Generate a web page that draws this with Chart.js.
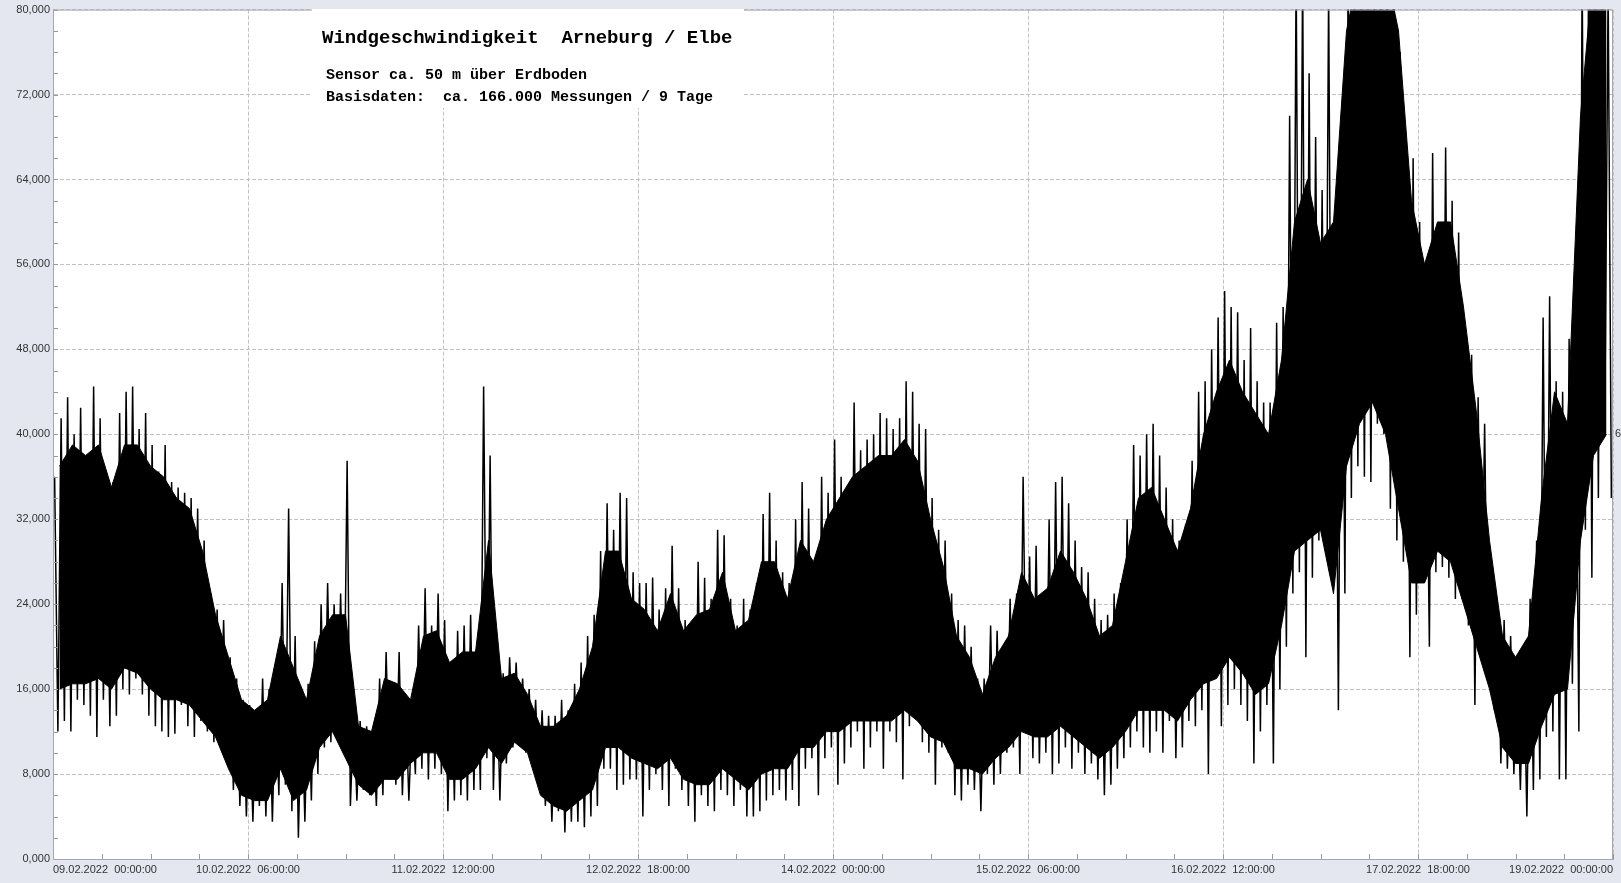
<!DOCTYPE html>
<html>
<head>
<meta charset="utf-8">
<title>Windgeschwindigkeit Arneburg / Elbe</title>
<script src="https://cdn.jsdelivr.net/npm/chart.js@4.4.1/dist/chart.umd.min.js"></script>
<style>
  html, body { margin: 0; padding: 0; background: #e4e7f0; }
  #wrap { width: 1621px; height: 883px; }
</style>
</head>
<body>
<div id="wrap"><canvas id="windchart" width="1621" height="883"></canvas></div>
<script>
// hourly extremes (09.02.2022 00:00 .. 19.02.2022 00:00)
const windHigh = [
  36000, 41500, 43500, 40000, 42500, 38000, 44500, 41500, 33000, 35500,
  42000, 44000, 44500, 40500, 42000, 39000, 36500, 39000, 35500, 35000,
  34500, 34000, 33000, 30000, 25000, 23500, 22500, 19000, 17000, 15000,
  14500, 14000, 17000, 16000, 15500, 26000, 33000, 21000, 15000, 16500,
  20500, 24000, 26000, 24000, 25000, 37500, 13500, 13000, 12500, 12000,
  17000, 19500, 15500, 19500, 15000, 14000, 22000, 25500, 22000, 25000,
  22500, 18500, 21500, 22000, 23000, 20000, 44500, 38000, 18500, 17500,
  19000, 18500, 17000, 16000, 15000, 14000, 13500, 13500, 15000, 14000,
  16500, 18500, 21000, 23000, 29000, 33500, 31000, 34500, 34000, 27000,
  26000, 26000, 26500, 23500, 25500, 29500, 25500, 22500, 21500, 28000,
  26500, 24500, 31000, 30500, 24500, 22000, 24500, 23500, 26000, 32500,
  34500, 30000, 27000, 26000, 32000, 35500, 33000, 28000, 36000, 34500,
  39500, 36000, 33000, 43000, 38500, 39500, 40000, 42000, 41500, 40500,
  41500, 45000, 44000, 41000, 40500, 34000, 31000, 30000, 25000, 22500,
  22000, 20000, 17000, 17000, 22000, 21500, 20000, 24500, 25000, 36000,
  28500, 29500, 25000, 32000, 35500, 36000, 33500, 30000, 27500, 27000,
  24500, 22500, 23000, 25000, 26000, 32000, 39000, 38000, 40000, 41000,
  38000, 35000, 32000, 30000, 31500, 37500, 44000, 45000, 48000, 51000,
  53500, 52000, 51500, 47000, 50000, 45000, 43000, 43000, 50500, 52000,
  70000, 84000, 84000, 74000, 68000, 63000, 82000, 60000, 66000, 84000,
  84000, 84000, 84000, 84000, 84000, 84000, 84000, 76000, 65000, 66000,
  60000, 46000, 66500, 60000, 67000, 62000, 59000, 50000, 47500, 43500,
  41000, 27500, 22500, 22500, 21000, 17500, 19500, 24500, 30000, 51000,
  53000, 45000, 44000, 49000, 45000, 84000, 84000, 84000, 84000, 82000
];
const windLow = [
  12000, 13000, 12000, 15000, 14500, 13500, 11500, 15000, 12500, 13500,
  16000, 15500, 17000, 15500, 13500, 12500, 12000, 11500, 11800, 14500,
  12500, 11500, 13000, 12000, 11000, 11500, 9500, 6500, 5000, 4000,
  3500, 5000, 4000, 3500, 6000, 7000, 4500, 2000, 3500, 5500,
  8000, 10500, 11000, 11500, 10500, 5000, 5500, 6500, 6000, 5000,
  6000, 7500, 7000, 6000, 5500, 8000, 8500, 7500, 8500, 8000,
  4500, 5500, 6000, 5500, 6500, 6500, 9500, 6500, 5500, 9000,
  10500, 11500, 10000, 9000, 7000, 5000, 3500, 4500, 2500, 3500,
  3500, 3000, 4000, 5000, 8500, 8500, 6500, 7000, 7500, 7500,
  4000, 6500, 8000, 6500, 5000, 8500, 6500, 5000, 3500, 6000,
  5000, 4500, 6500, 6000, 5000, 6500, 4000, 4000, 4500, 5500,
  6000, 6500, 5500, 6500, 5000, 8500, 9500, 6000, 9500, 10500,
  7000, 9000, 10500, 12000, 8500, 10500, 12000, 8500, 12000, 11000,
  7500, 12500, 13500, 11000, 10000, 7000, 10500, 10000, 6000, 5500,
  7000, 6500, 4500, 8000, 7000, 8000, 10000, 10500, 8000, 12000,
  9500, 9000, 10000, 8000, 9000, 10500, 8500, 10000, 8000, 9000,
  7500, 6000, 7000, 8500, 9500, 10500, 12000, 10500, 10000, 12000,
  10000, 13000, 9500, 10500, 13000, 12500, 14000, 8000, 17000, 12500,
  14500, 16000, 14500, 13000, 9000, 12000, 14500, 9000, 16000, 20000,
  25000, 27000, 19000, 26500, 30000, 29500, 26500, 14000, 25000, 34000,
  37000, 36000, 35500, 41000, 40000, 33000, 30000, 28000, 19000, 23000,
  26000, 20000, 27000, 27500, 26500, 24500, 24500, 22000, 14500, 19500,
  17000, 14000, 9000, 8500, 8000, 6500, 4000, 6500, 7500, 11500,
  12000, 7500, 7500, 16500, 12000, 31000, 26500, 34000, 42000, 34000
];
// dense (solid) part of the trace, one value per 2 hours
const coreHigh = [
  37000, 39000, 38000, 39000, 35000, 39000, 39000, 37000, 36000, 34000,
  33000, 29000, 23000, 19000, 15000, 14000, 15000, 21000, 18000, 15000,
  21000, 23000, 23000, 12500, 12000, 17000, 16500, 15000, 21000, 21500,
  18500, 19500, 19500, 30000, 17000, 17500, 15500, 12500, 12500, 13500,
  16000, 20000, 29000, 29000, 24500, 23500, 21500, 25000, 21500, 23000,
  23500, 27000, 21500, 22500, 28000, 28000, 24500, 30000, 28000, 32000,
  34000, 36000, 37000, 38000, 38000, 39500, 37500, 32000, 27500, 21000,
  19000, 15500, 19000, 21000, 27000, 24500, 25500, 29000, 27000, 24500,
  21000, 22000, 28000, 34000, 35000, 32000, 29000, 33000, 40000, 44000,
  47000, 44000, 42000, 40000, 47000, 60000, 64000, 58000, 60000, 78000,
  84000, 84000, 84000, 78000, 62000, 56000, 60000, 60000, 52000, 42000,
  30000, 21000, 19000, 21000, 34000, 44000, 41000, 70000, 84000, 84000
];
const coreLow = [
  16000, 16500, 16500, 17000, 16000, 18000, 17500, 16000, 15000, 15000,
  14500, 13000, 11500, 8500, 6000, 5500, 5500, 8500, 5500, 6500,
  10500, 12000, 9500, 7000, 6000, 7500, 7500, 9000, 10000, 10000,
  7500, 7500, 8500, 10500, 9000, 11000, 10000, 6000, 5000, 4500,
  5500, 6500, 10500, 10500, 9500, 9000, 8500, 9500, 7500, 7000,
  7000, 8500, 7500, 6500, 8000, 8500, 8500, 10500, 10500, 12000,
  12000, 13000, 13000, 13000, 13000, 14000, 13000, 11500, 11000, 8500,
  8500, 8000, 9500, 10500, 12000, 11500, 11500, 12500, 11500, 10500,
  9500, 10500, 12000, 14000, 14000, 14000, 13000, 15000, 16500, 17000,
  19000, 17500, 15500, 16500, 22000, 29000, 30000, 31000, 25000, 37000,
  41000, 43000, 40000, 33000, 26000, 26000, 29000, 28000, 24000, 20000,
  16000, 10500, 9000, 9000, 12500, 15500, 16000, 30000, 38000, 40000
];
const xTickLabels = [
  '09.02.2022  00:00:00', '10.02.2022  06:00:00', '11.02.2022  12:00:00',
  '12.02.2022  18:00:00', '14.02.2022  00:00:00', '15.02.2022  06:00:00',
  '16.02.2022  12:00:00', '17.02.2022  18:00:00', '19.02.2022  00:00:00'
];
const yTickLabels = ['0,000', '8,000', '16,000', '24,000', '32,000', '40,000',
  '48,000', '56,000', '64,000', '72,000', '80,000'];
const titleLines = ['Windgeschwindigkeit  Arneburg / Elbe',
  'Sensor ca. 50 m über Erdboden',
  'Basisdaten:  ca. 166.000 Messungen / 9 Tage'];

// each hour: one stroke up to the max and one down to the min
const trace = [];
windHigh.forEach((v, i) => {
  trace.push({ x: i + 0.25, y: v });
  trace.push({ x: i + 0.75, y: windLow[i] });
});
const coreTop = coreHigh.map((v, k) => ({ x: k * 2 + 1, y: v }));
const coreBottom = coreLow.map((v, k) => ({ x: k * 2 + 1, y: v }));

const axisFont = { family: "'Liberation Sans', Arial, sans-serif", size: 11 };

const frame = {
  id: 'frame',
  beforeDraw(chart) {
    const { ctx, chartArea: a } = chart;
    ctx.save();
    ctx.fillStyle = '#e4e7f0';
    ctx.fillRect(0, 0, chart.width, chart.height);
    ctx.fillStyle = '#ffffff';
    ctx.fillRect(a.left, a.top, a.right - a.left, a.bottom - a.top);
    ctx.restore();
  },
  afterDraw(chart) {
    const { ctx, chartArea: a, scales } = chart;
    ctx.save();
    // small inner ticks
    ctx.strokeStyle = '#9a9a9a';
    ctx.lineWidth = 1;
    ctx.beginPath();
    for (let v = 0; v <= 80000; v += 2000) {
      const y = Math.round(scales.y.getPixelForValue(v)) + 0.5;
      ctx.moveTo(a.left, y); ctx.lineTo(a.left + 5, y);
    }
    for (let h = 0; h <= 240; h += 7.5) {
      const x = Math.round(scales.x.getPixelForValue(h)) + 0.5;
      ctx.moveTo(x, a.bottom); ctx.lineTo(x, a.bottom - 5);
    }
    ctx.stroke();
    // frame
    ctx.strokeStyle = '#a3a6ad';
    ctx.strokeRect(a.left + 0.5, a.top + 0.5, a.right - a.left - 1, a.bottom - a.top);
    // title box
    ctx.fillStyle = '#ffffff';
    ctx.fillRect(312, 9, 432, 99);
    ctx.fillStyle = '#000000';
    ctx.textBaseline = 'middle';
    ctx.font = "bold 19px 'Liberation Mono', 'Courier New', monospace";
    ctx.fillText(titleLines[0], 322, 38);
    ctx.font = "bold 15px 'Liberation Mono', 'Courier New', monospace";
    ctx.fillText(titleLines[1], 326, 75);
    ctx.fillText(titleLines[2], 326, 97);
    // cut-off label at the right edge
    ctx.font = "11px 'Liberation Sans', Arial, sans-serif";
    ctx.fillStyle = '#333';
    ctx.fillText('6', 1615, 434);
    ctx.restore();
  }
};

new Chart(document.getElementById('windchart'), {
  type: 'line',
  data: {
    datasets: [
      {
        label: 'Windgeschwindigkeit',
        data: trace,
        borderColor: '#000000',
        borderWidth: 1.5,
        borderJoinStyle: 'bevel',
        pointRadius: 0,
        tension: 0,
        fill: false
      },
      {
        label: 'core top',
        data: coreTop,
        borderColor: '#000000',
        backgroundColor: '#000000',
        borderWidth: 1,
        pointRadius: 0,
        tension: 0,
        fill: '+1'
      },
      {
        label: 'core bottom',
        data: coreBottom,
        borderColor: '#000000',
        borderWidth: 1,
        pointRadius: 0,
        tension: 0,
        fill: false
      }
    ]
  },
  options: {
    responsive: false,
    animation: false,
    events: [],
    layout: { padding: { top: 5, right: 8, left: 0, bottom: 0 } },
    plugins: { legend: { display: false }, tooltip: { enabled: false } },
    scales: {
      x: {
        type: 'linear',
        min: 0,
        max: 240,
        afterFit: s => { s.height = 24; },
        ticks: {
          stepSize: 30,
          autoSkip: false,
          maxRotation: 0,
          align: 'inner',
          padding: 4,
          color: '#333',
          font: axisFont,
          callback: (v, i) => xTickLabels[i]
        },
        grid: { color: '#c2c2c2', drawTicks: false },
        border: { color: '#a3a6ad', dash: [4, 2] }
      },
      y: {
        min: 0,
        max: 80000,
        afterFit: s => { s.width = 53; },
        ticks: {
          stepSize: 8000,
          padding: 3,
          color: '#333',
          font: axisFont,
          callback: (v, i) => yTickLabels[i]
        },
        grid: { color: '#c2c2c2', drawTicks: false },
        border: { color: '#a3a6ad', dash: [4, 2] }
      }
    }
  },
  plugins: [frame]
});
</script>
</body>
</html>
